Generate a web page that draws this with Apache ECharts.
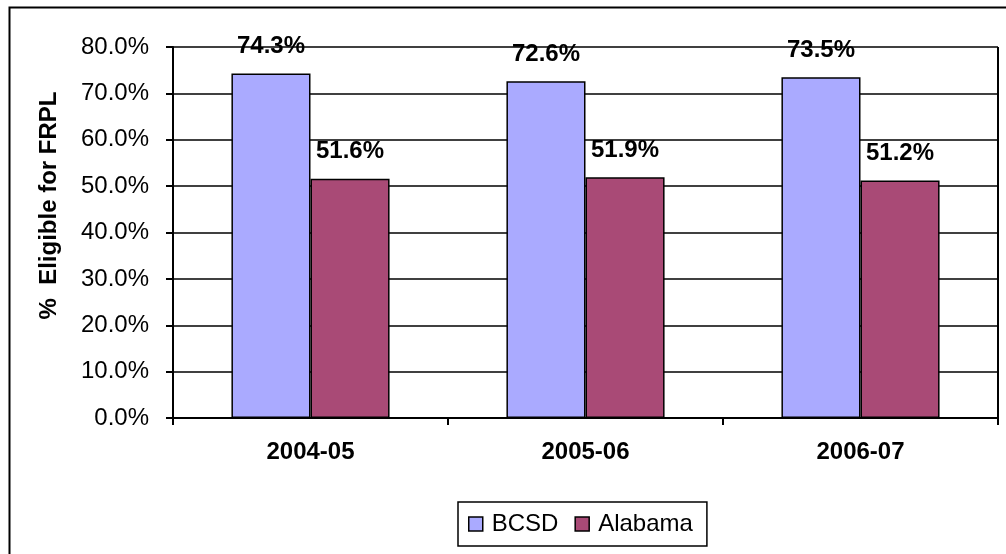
<!DOCTYPE html>
<html>
<head>
<meta charset="utf-8">
<script src="https://cdn.jsdelivr.net/npm/echarts@6/dist/echarts.min.js"></script>
<style>
  html, body { margin: 0; padding: 0; background: #fff; }
  #main { width: 1006px; height: 554px; }
</style>
</head>
<body>
<div id="main"></div>
<script>
// data
let years = ["2004-05", "2005-06", "2006-07"]
let bcsd = [74.3, 72.6, 73.5]
let alabama = [51.6, 51.9, 51.2]

let myChart = echarts.init(document.getElementById('main'))
let font = 'Liberation Sans, Arial, sans-serif'

let barLabel = {
  show: true,
  position: 'top',
  distance: 15,
  fontFamily: font,
  fontSize: 24,
  fontWeight: 'bold',
  color: '#000',
  formatter: p => p.value.toFixed(1) + '%'
}

var option = {
  animation: false,
  textStyle: { fontFamily: font },
  graphic: [{
    type: 'rect',
    left: 7, top: 5,
    shape: { width: 1020, height: 570 },
    style: { fill: 'none', stroke: '#000', lineWidth: 2 },
    z: 100
  }, {
    // right border of the plot area
    type: 'line',
    shape: { x1: 998, y1: 47, x2: 998, y2: 425 },
    style: { stroke: '#000', lineWidth: 2 }
  }],
  grid: { left: 173, right: 8, top: 47, bottom: 136 },
  legend: {
    left: 458, top: 502,
    padding: [8, 14, 8, 10],
    borderColor: '#000',
    borderWidth: 1.5,
    icon: 'rect',
    itemWidth: 14,
    itemHeight: 14,
    itemGap: 16,
    itemStyle: { borderColor: '#000', borderWidth: 1.5 },
    textStyle: { fontFamily: font, fontSize: 24, color: '#000', lineHeight: 28, padding: [0, 0, 0, 4] },
    data: ['BCSD', 'Alabama']
  },
  xAxis: {
    type: 'category',
    data: years,
    axisLine: { lineStyle: { color: '#000', width: 2 } },
    axisTick: { show: true, length: 7, lineStyle: { color: '#000', width: 2 } },
    axisLabel: { fontFamily: font, fontSize: 24, fontWeight: 'bold', color: '#000', margin: 22 }
  },
  yAxis: {
    type: 'value',
    min: 0, max: 80, interval: 10,
    name: '%  Eligible for FRPL',
    nameLocation: 'middle',
    nameGap: 112,
    nameTextStyle: { fontFamily: font, fontSize: 24, fontWeight: 'bold', color: '#000', padding: [0, 0, 0, 54] },
    axisLine: { show: true, lineStyle: { color: '#000', width: 2 } },
    axisTick: { show: true, length: 7, lineStyle: { color: '#000', width: 2 } },
    axisLabel: { fontFamily: font, fontSize: 24, color: '#000', margin: 24, formatter: v => v.toFixed(1) + '%' },
    splitLine: { lineStyle: { color: '#000', width: 1.5 } }
  },
  series: [
    {
      name: 'BCSD', type: 'bar', data: bcsd,
      barGap: '0%', barCategoryGap: '42.5%',
      itemStyle: { color: '#aaaaff', borderColor: '#000', borderWidth: 1.5 },
      label: barLabel
    },
    {
      name: 'Alabama', type: 'bar', data: alabama,
      itemStyle: { color: '#a94a76', borderColor: '#000', borderWidth: 1.5 },
      label: barLabel
    }
  ]
}

myChart.setOption(option)
</script>
</body>
</html>
